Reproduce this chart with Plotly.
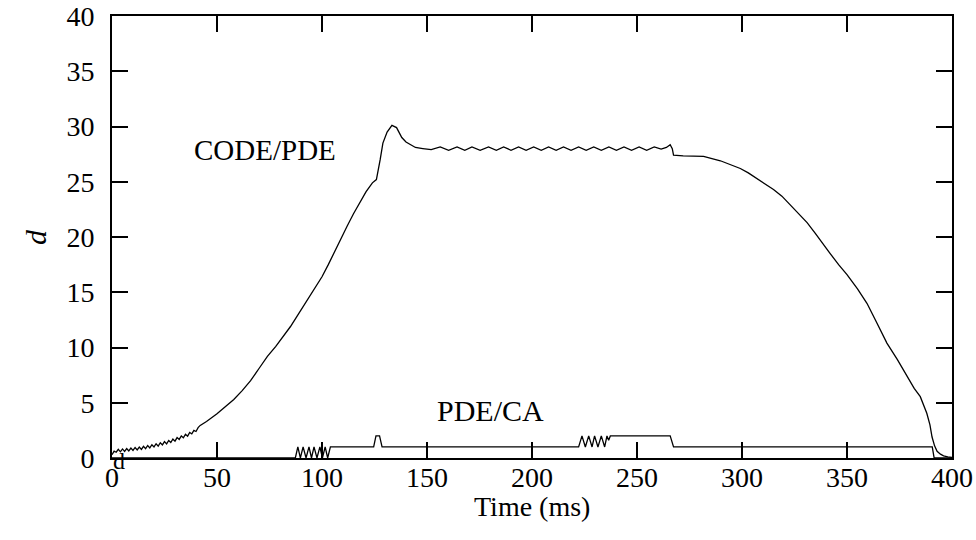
import plotly.graph_objects as go

# CODE/PDE series (time in ms, d)
code_t = [0, 1, 2, 3, 4, 5, 6, 7, 8, 9, 10, 11, 12, 13, 14, 15, 16, 17, 18, 19, 20,
          21, 22, 23, 24, 25, 26, 27, 28, 29, 30, 31, 32, 33, 34, 35, 36, 37, 38, 39, 40,
          41, 42, 45, 50, 55, 58, 62, 66, 70, 74, 78, 82, 85, 88, 91, 94, 97, 100,
          103, 106, 109, 112, 115, 118, 121, 124, 125.9, 127.7, 129, 131, 133.3, 135.5,
          138, 140, 142, 144.5, 148, 152, 156.3, 160.3, 164.3, 168, 171.4, 175.3, 179.3,
          183, 186.5, 190, 193.6, 197.2, 200.8, 204.4, 207.9, 211.5, 215, 218.6, 222.2,
          225.8, 229.4, 233, 236.6, 240.2, 243.8, 247.4, 251, 254.6, 258.2, 261.5, 264,
          265.8, 266.8, 267.4, 272, 281.7, 289.7, 295, 299.2, 303, 307.1, 311, 315, 319,
          323, 327, 331, 335, 338, 342, 346, 350, 355, 359.5, 364, 369, 374, 378.6, 382,
          384.9, 388, 389.5, 390.5, 391.7, 392.9, 394.5, 396, 398, 400]
code_d = [0.30, 0.62, 0.52, 0.78, 0.56, 0.82, 0.60, 0.86, 0.64, 0.90, 0.68, 0.95, 0.73,
          0.99, 0.78, 1.06, 0.85, 1.13, 0.92, 1.20, 1.00, 1.29, 1.08, 1.38, 1.18, 1.48,
          1.28, 1.59, 1.40, 1.72, 1.53, 1.85, 1.68, 2.00, 1.83, 2.15, 1.98, 2.32, 2.18,
          2.50, 2.40, 2.75, 2.95, 3.3, 4.0, 4.8, 5.3, 6.1, 7.0, 8.1, 9.2, 10.1, 11.1,
          11.9, 12.8, 13.7, 14.5, 15.4, 16.4, 17.5, 18.7, 19.9, 21.0, 22.1, 23.1, 24.1,
          24.9, 25.2, 27.0, 28.5, 29.5, 30.1, 29.9, 29.0, 28.6, 28.35, 28.1, 28.0, 27.9,
          28.15, 27.85, 28.15, 27.85, 28.15, 27.85, 28.15, 27.85, 28.15, 27.85, 28.15,
          27.85, 28.15, 27.85, 28.15, 27.85, 28.15, 27.85, 28.15, 27.85, 28.15, 27.85,
          28.15, 27.85, 28.15, 27.85, 28.15, 27.85, 28.15, 27.95, 28.1, 28.35, 28.0,
          27.4, 27.35, 27.3, 26.9, 26.5, 26.2, 25.8, 25.3, 24.8, 24.3, 23.7, 22.9, 22.1,
          21.3, 20.3, 19.5, 18.5, 17.5, 16.6, 15.3, 14.0, 12.3, 10.4, 8.9, 7.4, 6.3,
          5.55, 4.05, 3.0, 1.9, 1.1, 0.6, 0.35, 0.2, 0.1, 0.05]

# PDE/CA series
ca_t = [0, 87.3, 88.5, 89.7, 91, 92.4, 93.8, 95, 96.2, 97.6, 99, 100.2, 101.5, 102.7,
        104, 124.6, 125.7, 127.4, 128.6, 222.2, 223.8, 225.4, 227, 228.6, 229.8, 231.4,
        233, 234.6, 235.7, 236.5, 237.3, 265.8, 267.4, 390.6, 391.5, 400]
ca_d = [0, 0, 1, 0, 1, 0, 1, 0, 1, 0, 1, 0, 1, 0,
        1, 1, 2, 2, 1, 1, 2, 1, 2, 1, 2, 1,
        2, 1, 2, 1.6, 2, 2, 1, 1, 0, 0]

x_ticks = [0, 50, 100, 150, 200, 250, 300, 350, 400]
y_ticks = [0, 5, 10, 15, 20, 25, 30, 35, 40]

FONT = "Liberation Serif"
FS = 28

fig = go.Figure()
fig.add_trace(go.Scatter(x=code_t, y=code_d, mode="lines",
                         line=dict(color="black", width=1.3), showlegend=False))
fig.add_trace(go.Scatter(x=ca_t, y=ca_d, mode="lines",
                         line=dict(color="black", width=1.3), showlegend=False))

axis_common = dict(showline=True, linecolor="black", linewidth=2, mirror="ticks",
                   ticks="inside", ticklen=16, tickwidth=2, tickcolor="black",
                   showgrid=False, zeroline=False, automargin=False,
                   tickfont=dict(family=FONT, size=FS, color="black"))

fig.update_xaxes(range=[0, 400], tickvals=x_ticks, ticktext=[str(v) for v in x_ticks],
                 ticklabelstandoff=-7, **axis_common)
fig.update_yaxes(range=[0, 40], tickvals=y_ticks, ticktext=[str(v) for v in y_ticks],
                 ticklabelstandoff=10, **axis_common)

fig.add_annotation(x=73, y=27.9, xref="x", yref="y", text="CODE/PDE", showarrow=False,
                   font=dict(family=FONT, size=29, color="black"))
fig.add_annotation(x=180, y=4.3, xref="x", yref="y", text="PDE/CA", showarrow=False,
                   font=dict(family=FONT, size=30, color="black"))
fig.add_annotation(x=0.0083, y=-0.007, xref="paper", yref="paper", text="d",
                   xanchor="center", yanchor="middle", showarrow=False,
                   font=dict(family=FONT, size=24, color="black"))
fig.add_annotation(x=-0.0917, y=0.5, xref="paper", yref="paper", text="<i>d</i>",
                   xanchor="center", yanchor="middle", textangle=-90, showarrow=False,
                   font=dict(family=FONT, size=30, color="black"))
fig.add_annotation(x=0.5, y=-0.11, xref="paper", yref="paper", text="Time (ms)",
                   xanchor="center", yanchor="middle",
                   showarrow=False, font=dict(family=FONT, size=FS, color="black"))

fig.update_layout(width=976, height=540, paper_bgcolor="white", plot_bgcolor="white",
                  margin=dict(l=112, r=24, t=16, b=82), template="none")

fig.write_html("out.html", config={"displayModeBar": False},
               post_script="document.body.style.margin='0';")
